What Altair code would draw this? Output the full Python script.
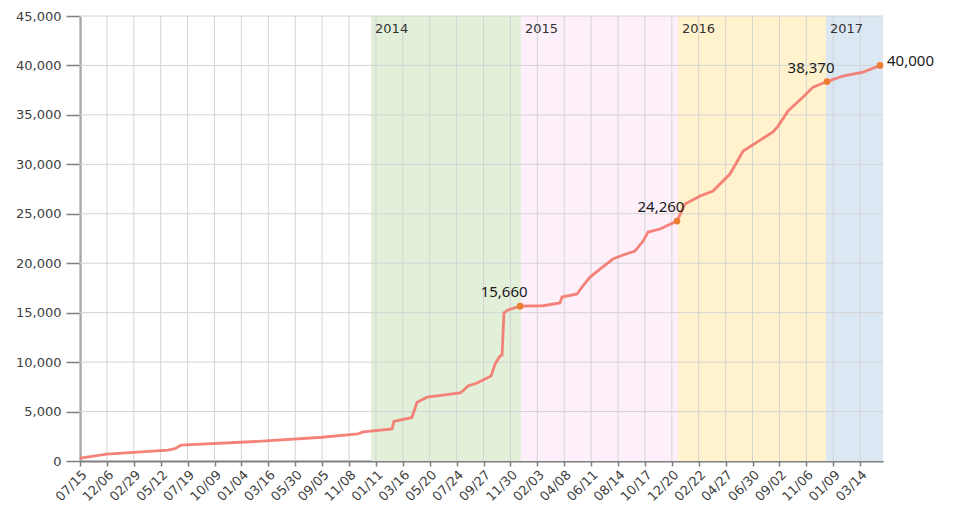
import json
import altair as alt
import pandas as pd

# ---- data ----
tick_labels = ["07/15", "12/06", "02/29", "05/12", "07/19", "10/09", "01/04", "03/16",
               "05/30", "09/05", "11/08", "01/11", "03/16", "05/20", "07/24", "09/27",
               "11/30", "02/03", "04/08", "06/11", "08/14", "10/17", "12/20", "02/22",
               "04/27", "06/30", "09/02", "11/06", "01/09", "03/14"]
tick_pos = list(range(len(tick_labels)))

# position along the axis in tick units, cumulative count
line_pos = [0.0, 1.0, 3.27, 3.53, 3.75, 6.77, 9.0, 10.33, 10.52, 10.9, 11.6, 11.67, 12.34,
            12.53, 12.9, 14.13, 14.24, 14.42, 14.76, 15.17, 15.28, 15.43, 15.61, 15.69,
            15.76, 15.91, 16.36, 17.21, 17.84, 17.92, 18.48, 18.66, 18.96, 19.33, 19.81,
            20.19, 20.63, 20.93, 21.12, 21.56, 22.19, 22.27, 22.49, 23.05, 23.53, 24.16,
            24.65, 25.17, 25.76, 25.95, 26.32, 26.88, 27.25, 27.77, 28.36, 29.11, 29.74]
line_val = [300, 700, 1100, 1250, 1600, 2000, 2400, 2750, 2950, 3050, 3240, 4000, 4400,
            5950, 6450, 6880, 7100, 7580, 7890, 8450, 8600, 9800, 10600, 10700,
            15000, 15270, 15660, 15700, 15980, 16580, 16890, 17590, 18600, 19410, 20420,
            20830, 21230, 22240, 23150, 23460, 24260, 24700, 25990, 26800, 27300, 29020,
            31340, 32250, 33270, 33870, 35390, 36800, 37810, 38370, 38930, 39330, 40000]

mark_pos = [16.36, 22.19, 27.77, 29.74]
mark_val = [15660, 24260, 38370, 40000]
mark_text = ["15,660", "24,260", "38,370", "40,000"]

years = ["2014", "2015", "2016", "2017"]
year_start = [10.82, 16.39, 22.23, 27.73]
year_end = [16.39, 22.23, 27.73, 29.85]
year_colors = ["#e2efd9", "#fdf0fb", "#fff2cc", "#dce7f4"]

y_ticks = list(range(0, 45001, 5000))
x_max = 29.85

# ---- tables ----
line_df = pd.DataFrame({"t": line_pos, "v": line_val})
mark_df = pd.DataFrame({"t": mark_pos, "v": mark_val, "label": mark_text})
band_df = pd.DataFrame({"year": years, "start": year_start, "end": year_end})
vgrid_df = pd.DataFrame({"t": tick_pos})
hgrid_df = pd.DataFrame({"v": y_ticks[1:]})

label_expr = json.dumps(tick_labels) + "[datum.value]"

xscale = alt.Scale(domain=[0, x_max], nice=False, zero=False)
yscale = alt.Scale(domain=[0, 45000], nice=False)

x_axis = alt.Axis(values=tick_pos, labelExpr=label_expr, labelAngle=-45, title=None,
                  labelFontSize=13, labelPadding=2, labelOverlap=False, tickSize=5)
y_axis = alt.Axis(values=y_ticks, format=",.0f", title=None, labelFontSize=13,
                  minExtent=67, labelPadding=5, tickSize=14)

bands = alt.Chart(band_df).mark_rect().encode(
    x=alt.X("start:Q", scale=xscale, axis=x_axis),
    x2="end:Q",
    y=alt.datum(0, type="quantitative", scale=yscale, axis=y_axis),
    y2=alt.datum(45000),
    color=alt.Color("year:N", scale=alt.Scale(domain=years, range=year_colors), legend=None),
)

vgrid = alt.Chart(vgrid_df).mark_rule(color="#d4d4d4", strokeWidth=1).encode(
    x=alt.X("t:Q", scale=xscale, axis=x_axis),
    y=alt.datum(0, type="quantitative", scale=yscale, axis=y_axis),
    y2=alt.datum(45000),
)

hgrid = alt.Chart(hgrid_df).mark_rule(color="#d4d4d4", strokeWidth=1).encode(
    y=alt.Y("v:Q", scale=yscale, axis=y_axis),
    x=alt.datum(0, type="quantitative", scale=xscale, axis=x_axis),
    x2=alt.datum(x_max),
)

line = alt.Chart(line_df).mark_line(color="#f4766c", strokeWidth=2.8, opacity=0.9).encode(
    x=alt.X("t:Q", scale=xscale, axis=x_axis),
    y=alt.Y("v:Q", scale=yscale, axis=y_axis),
)

points = alt.Chart(mark_df).mark_circle(color="#ed7d31", size=45, opacity=1).encode(
    x=alt.X("t:Q", scale=xscale, axis=x_axis),
    y=alt.Y("v:Q", scale=yscale, axis=y_axis),
)

ann_main = alt.Chart(mark_df).transform_filter(
    alt.datum.v < 40000
).mark_text(align="center", baseline="middle", dx=-16, dy=-14, fontSize=15,
            font="Noto Sans", color="#1a1a1a").encode(
    x=alt.X("t:Q", scale=xscale, axis=x_axis),
    y=alt.Y("v:Q", scale=yscale, axis=y_axis),
    text="label:N",
)

ann_last = alt.Chart(mark_df).transform_filter(
    alt.datum.v >= 40000
).mark_text(align="left", baseline="middle", dx=7, dy=-4, fontSize=15,
            font="Noto Sans", color="#1a1a1a").encode(
    x=alt.X("t:Q", scale=xscale, axis=x_axis),
    y=alt.Y("v:Q", scale=yscale, axis=y_axis),
    text="label:N",
)

year_text = alt.Chart(band_df).mark_text(align="left", baseline="middle", dx=4, dy=13,
                                         fontSize=13, font="DejaVu Sans",
                                         color="#333333").encode(
    x=alt.X("start:Q", scale=xscale, axis=x_axis),
    y=alt.datum(45000, type="quantitative", scale=yscale, axis=y_axis),
    text="year:N",
)

chart = alt.layer(bands, vgrid, hgrid, line, points, ann_main, ann_last, year_text).properties(
    width=803, height=445,
    padding={"left": 5, "top": 2, "right": 5, "bottom": 2},
).configure_view(stroke=None).configure_axis(
    grid=False,
    domainColor="#7f7f7f",
    domainWidth=2,
    tickColor="#7f7f7f",
    tickWidth=1.5,
    labelColor="#404040",
    labelFont="DejaVu Sans",
)

chart.save("out.html", embed_options={"renderer": "svg", "actions": False})
